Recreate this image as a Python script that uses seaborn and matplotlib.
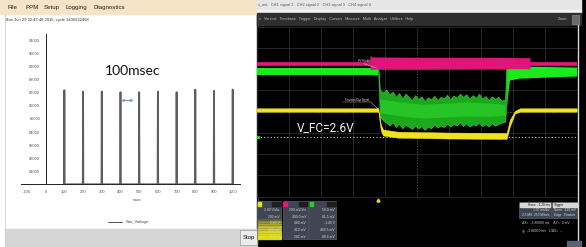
import numpy as np
import pandas as pd
import matplotlib
matplotlib.use("Agg")
import matplotlib.pyplot as plt
from matplotlib.patches import Rectangle, FancyArrowPatch
from matplotlib.ticker import MultipleLocator, FixedLocator
import seaborn as sns

# ---------------- data: left chart (PPM "Sun_Voltage") ----------------
spike_times = [100, 200, 300, 400, 500, 600, 700, 800, 900, 1000]          # msec
spike_peaks = [87200, 87100, 87100, 87050, 87050, 87100, 87050, 87250, 87150, 87250]
spike_base = 80000
y_tick_values = [81000, 82000, 83000, 84000, 85000, 86000, 87000, 88000, 89000, 90000, 91000]
x_tick_values = [-100, 0, 100, 200, 300, 400, 500, 600, 700, 800, 900, 1000]
left_menu = ["File", "PPM", "Setup", "Logging", "Diagnostics"]
timestamp = "Mon Jun 29 22:47:48 2015, cycle 1435632468"

# ---------------- data: oscilloscope traces (time / level in divisions) ----------------
mag_t = [0.0, 3.54, 8.54, 10.0]
mag_v = [6.245, 6.245, 6.245, 6.245]
mag_band_t = [3.54, 3.60, 5.0, 7.0, 8.54]
mag_band_hi = [6.67, 6.58, 6.56, 6.56, 6.54]
mag_band_lo = [6.00, 6.00, 6.00, 6.02, 6.02]

green_hi_t = [0.0, 3.80]
green_hi_top = [6.08, 6.08]
green_hi_bot = [5.73, 5.73]
green_hi_t2 = [7.81, 7.90, 8.20, 10.0]
green_hi_top2 = [6.34, 6.24, 6.15, 6.10]
green_hi_bot2 = [4.40, 5.49, 5.58, 5.68]

green_t = [3.80, 3.85, 3.95, 4.05, 4.15, 4.25, 4.35, 4.45, 4.55, 4.65, 4.75, 4.85, 4.95, 5.05,
           5.15, 5.25, 5.35, 5.45, 5.55, 5.65, 5.75, 5.85, 5.95, 6.05, 6.15, 6.25, 6.35, 6.45,
           6.55, 6.65, 6.75, 6.85, 6.95, 7.05, 7.15, 7.25, 7.35, 7.45, 7.55, 7.65, 7.76, 7.81]
green_hi = [6.08, 5.02, 4.90, 5.05, 4.80, 4.95, 4.70, 4.88, 4.62, 4.85, 4.70, 4.55, 4.78, 4.60,
            4.72, 4.50, 4.68, 4.58, 4.75, 4.55, 4.70, 4.62, 4.80, 4.58, 4.76, 4.66, 4.85, 4.70,
            4.82, 4.60, 4.78, 4.65, 4.84, 4.62, 4.74, 4.55, 4.72, 4.60, 4.70, 4.52, 4.58, 6.34]
green_lo = [5.73, 3.76, 3.60, 3.48, 3.35, 3.50, 3.28, 3.42, 3.22, 3.38, 3.30, 3.18, 3.36, 3.20,
            3.32, 3.14, 3.30, 3.22, 3.40, 3.25, 3.35, 3.28, 3.44, 3.30, 3.42, 3.35, 3.50, 3.32,
            3.45, 3.30, 3.40, 3.36, 3.48, 3.32, 3.42, 3.30, 3.45, 3.34, 3.42, 3.48, 3.53, 4.40]
green_core_t = [3.85, 4.5, 5.2, 5.9, 6.6, 7.3, 7.76]
green_core_hi = [4.60, 4.45, 4.35, 4.40, 4.45, 4.40, 4.35]
green_core_lo = [3.95, 3.80, 3.70, 3.75, 3.80, 3.78, 3.85]

yel_t = [0.0, 3.80, 3.88, 3.95, 4.40, 5.90, 7.78, 7.81, 7.91, 8.07, 8.23, 10.0]
yel_hi = [4.16, 4.16, 3.40, 3.16, 3.06, 3.02, 3.00, 3.00, 3.62, 4.04, 4.16, 4.16]
yel_lo = [4.00, 4.00, 3.10, 2.88, 2.78, 2.74, 2.72, 2.72, 3.30, 3.92, 4.00, 4.00]

ground_level = 2.82
vfc_label = "V_FC=2.6V"
scope_menu = "le   Vertical   Timebase   Trigger   Display   Cursors   Measure   Math   Analyze   Utilities   Help"
scope_title = "s_ant   CH1 signal 1   CH2 signal 2   CH3 signal 3   CH4 signal 4"
ch1_info = ["2.00 V/div", "200 mV", "2.60 V", "120 mV", "2.62 V"]
ch2_info = ["200 mV/div", "490.0 mV", "480 mV", "410 mV", "282 mV"]
ch3_info = ["50.0 mV", "81.5 mV", "-1.49 V", "450.5 mV", "80.5 mV"]
horiz_info = ["Horiz  -1.20 ms", "1.00 ms/div", "2.5 MS  250 MSa/s"]
trig_info = ["Trigger", "Norm   410 mV", "Edge   Positive"]
cursor_info = ["\u0394X=  -3.80000 ms    \u0394Y=  0 mV", "\u25CE  -3.80000 ms   1/\u0394X=  --"]

# ---------------- figure ----------------
sns.set_theme(style="white")
plt.rcParams["font.family"] = ["Liberation Sans", "DejaVu Sans"]
W, H = 586, 247
fig = plt.figure(figsize=(W / 100, H / 100), dpi=100)


def px_axes(x0, y0, x1, y1, **kw):
    return fig.add_axes([x0 / W, 1 - y1 / H, (x1 - x0) / W, (y1 - y0) / H], **kw)


bg = fig.add_axes([0, 0, 1, 1])
bg.set_xlim(0, W)
bg.set_ylim(H, 0)
bg.axis("off")

# ---- left window chrome ----
bg.add_patch(Rectangle((0, 0), 257, H, color="white", zorder=0))
bg.add_patch(Rectangle((0, 0), 257, 14, color="#f5e4c6", zorder=1))
menu_x = [8, 25.5, 44, 66, 94]
for x, w in zip(menu_x, left_menu):
    bg.text(x, 7.5, w, fontsize=4.4, color="#222222", va="center", ha="left", zorder=2)
bg.text(5, 20.5, timestamp, fontsize=3.0, color="#333333", va="center", ha="left", zorder=2)
bg.plot([5, 5], [14, 246], color="#d0d0d0", lw=0.6, zorder=2)
bg.add_patch(Rectangle((5, 229), 252, 17, color="#d6d6d6", zorder=1))
bg.add_patch(Rectangle((240, 229.5), 16.5, 15.5, facecolor="#ececec", edgecolor="#9a9a9a",
                       lw=0.5, zorder=2))
bg.text(248.5, 237.5, "Stop", fontsize=4.2, color="#111111", ha="center", va="center", zorder=3)

bg.text(132.5, 70.5, "100msec", fontsize=10, family=["Lato", "DejaVu Sans"], color="#111111",
        ha="center", va="center", zorder=3)
bg.add_patch(FancyArrowPatch((118.5, 100.5), (136.5, 100.5), arrowstyle="<->",
                             mutation_scale=4, color="#6f9ad6", lw=0.7, zorder=3))
bg.text(137, 199.5, "msec", fontsize=2.8, color="#555555", ha="center", va="center", zorder=3)

# ---- scope window chrome ----
bg.add_patch(Rectangle((256.5, 0), W - 256.5, H, color="#000000", zorder=0))
bg.add_patch(Rectangle((256.5, 0), 324, 10.5, color="#e6e6e6", zorder=1))
bg.add_patch(Rectangle((256.5, 10.5), 324, 2.5, color="#f4f4f4", zorder=1))
bg.add_patch(Rectangle((256.5, 13), 324, 12.5, color="#2e2e2e", zorder=1))
bg.text(258, 5, scope_title, fontsize=2.8, color="#555555", ha="left", va="center", zorder=2)
bg.text(258, 19.2, scope_menu, fontsize=2.7, color="#bdbdbd", ha="left", va="center", zorder=2)
bg.text(563, 19.2, "Zoom", fontsize=2.7, color="#bdbdbd", ha="center", va="center", zorder=2)
bg.add_patch(Rectangle((571.5, 15), 7, 9, facecolor="#6a6a6a", edgecolor="#9a9a9a", lw=0.4, zorder=2))
bg.plot([578, 578], [25, 243], color="#d8d8d8", lw=1.0, zorder=2)
bg.plot([257.5, 257.5], [13, 200], color="#3a3a3a", lw=1.0, zorder=2)

# trigger marker
bg.plot([378.3], [199.5], marker="^", ms=2.2, color="#e8d81a", zorder=3)


def info_box(x0, x1, tag_col, lines, yellow=False):
    bg.add_patch(Rectangle((x0, 201), x1 - x0, 38, facecolor="#3f4552", edgecolor="#6a7080",
                           lw=0.4, zorder=2))
    bg.add_patch(Rectangle((x0 + 0.5, 201.5), 3.5, 4.5, color=tag_col, zorder=3))
    bg.add_patch(Rectangle((x1 - 9, 202), 8.5, 4, color="#1d1d1d", zorder=3))
    if yellow:
        for k in range(12):
            bg.add_patch(Rectangle((x0 + 0.5, 219 + k * 1.65), x1 - x0 - 1, 1.7,
                                   color="#e8e020", alpha=0.12 + 0.07 * k, zorder=3))
    for k, s in enumerate(lines):
        bg.text(x1 - 1.5, 210 + k * 6.7, s, fontsize=2.4, color="#d8d8d8", ha="right",
                va="center", zorder=4)


info_box(257, 281, "#e8e020", ch1_info, yellow=True)
info_box(282.5, 307.5, "#e8157a", ch2_info)
info_box(309, 336, "#22d022", ch3_info)

bg.add_patch(Rectangle((519, 202), 31.5, 16, facecolor="#3f4552", edgecolor="#6a7080", lw=0.4, zorder=2))
bg.add_patch(Rectangle((552, 202), 25, 16, facecolor="#3f4552", edgecolor="#6a7080", lw=0.4, zorder=2))
bg.add_patch(Rectangle((519.5, 202.5), 30.5, 4, color="#d8d8d8", zorder=3))
bg.add_patch(Rectangle((552.5, 202.5), 24, 4, color="#d8d8d8", zorder=3))
for k, s in enumerate(horiz_info):
    bg.text(549.5, 204.5 + k * 5, s, fontsize=2.3, color="#111111" if k == 0 else "#d8d8d8",
            ha="right", va="center", zorder=4)
for k, s in enumerate(trig_info):
    bg.text(553.5, 204.5 + k * 5, s, fontsize=2.3, color="#111111" if k == 0 else "#d8d8d8",
            ha="left", va="center", zorder=4)
for k, s in enumerate(cursor_info):
    bg.text(522, 222.5 + k * 7.5, s, fontsize=2.4, color="#cfcfcf", ha="left", va="center", zorder=4)
bg.add_patch(Rectangle((567, 241), 14, 6, color="#5a6070", zorder=2))

# ---------------- left chart (seaborn) ----------------
rows = []
for t, p in zip(spike_times, spike_peaks):
    rows += [(t - 1.5, spike_base), (t, p), (t + 1.5, spike_base)]
spk = pd.DataFrame(rows, columns=["msec", "Sun_Voltage"])

axl = px_axes(20.6, 34.0, 240.0, 184.3)
axl.patch.set_alpha(0)
sns.lineplot(data=spk, x="msec", y="Sun_Voltage", sort=False, estimator=None, ax=axl,
             color="#5e5e5e", lw=1.3, label="Sun_Voltage")
axl.set_xlim(-134, 1039)
axl.set_ylim(80000, 91500)
axl.set_xlabel("")
axl.set_ylabel("")
for s in ["top", "right"]:
    axl.spines[s].set_visible(False)
axl.spines["left"].set_position(("data", 0))
for s in ["left", "bottom"]:
    axl.spines[s].set_color("#222222")
    axl.spines[s].set_linewidth(0.7)
axl.xaxis.set_major_locator(FixedLocator(x_tick_values))
axl.yaxis.set_major_locator(FixedLocator(y_tick_values))
axl.xaxis.set_minor_locator(MultipleLocator(50))
axl.yaxis.set_minor_locator(MultipleLocator(500))
axl.set_xticklabels([str(v) for v in x_tick_values])
axl.set_yticklabels([str(v) for v in y_tick_values])
axl.tick_params(which="major", direction="inout", length=3, width=0.5, color="#222222",
                labelsize=2.9, labelcolor="#555555", pad=2.5)
axl.tick_params(which="minor", direction="inout", length=1.6, width=0.4, color="#222222")
axl.legend(loc="center left", bbox_to_anchor=(104 / W, 1 - 222 / H), bbox_transform=fig.transFigure,
           frameon=False, fontsize=3.0, handlelength=3.5, handletextpad=0.8,
           labelcolor="#444444")
axl.get_legend().get_lines()[0].set_color("#333333")
axl.get_legend().get_lines()[0].set_linewidth(0.6)

# ---------------- oscilloscope (seaborn) ----------------
axs = px_axes(256.7, 26.7, 576.7, 196.7)
axs.set_facecolor("black")
axs.set_xlim(0, 10)
axs.set_ylim(0, 8)
for v in range(1, 10):
    axs.axvline(v, color="#6a6a6a" if v == 5 else "#363636", lw=0.5,
                ls=(0, (2, 2)) if v == 5 else "-", zorder=1)
for v in range(1, 8):
    axs.axhline(v, color="#6a6a6a" if v == 4 else "#363636", lw=0.5,
                ls=(0, (2, 2)) if v == 4 else "-", zorder=1)
axs.set_xticks([])
axs.set_yticks([])
for s in axs.spines.values():
    s.set_color("#2a2a2a")
    s.set_linewidth(0.6)

# ground reference (dotted) and marker
axs.axhline(ground_level, color="#cfcfcf", lw=0.7, ls=(0, (1.2, 2.2)), zorder=2)
axs.plot([0.04], [ground_level], marker="s", ms=1.4, color="#22d022", zorder=6)

# magenta trace
mag = pd.DataFrame({"t": mag_t, "v": mag_v})
sns.lineplot(data=mag, x="t", y="v", ax=axs, color="#e8177d", lw=2.6, estimator=None,
             sort=False, zorder=4)
axs.fill_between(mag_band_t, mag_band_lo, mag_band_hi, color="#e0157a", lw=0, zorder=4)

# green trace
axs.fill_between(green_hi_t, green_hi_bot, green_hi_top, color="#19ec19", lw=0, zorder=3)
axs.fill_between(green_hi_t2, green_hi_bot2, green_hi_top2, color="#19ec19", lw=0, zorder=3)
axs.fill_between(green_t, green_lo, green_hi, color="#1ca81c", lw=0.4, ec="#35d535", zorder=3)
axs.fill_between(green_core_t, green_core_lo, green_core_hi, color="#2cd02c", lw=0, alpha=0.7,
                 zorder=3)

# yellow trace
axs.fill_between(yel_t, yel_lo, yel_hi, color="#f0e21c", lw=0.3, ec="#f8ee40", zorder=5)

axs.set_xlabel("")
axs.set_ylabel("")

# annotations inside scope
axs.text(3.35, 6.27, "PV Module", fontsize=1.9, color="#e8e8e8", ha="center", va="bottom", zorder=7)
axs.plot([3.35, 3.75], [6.26, 6.05], color="#dddddd", lw=0.3, zorder=7)
axs.text(3.12, 4.48, "Fenestra Cap Signal", fontsize=1.9, color="#e8e8e8", ha="center",
         va="bottom", zorder=7)
axs.plot([2.7, 3.55], [4.47, 4.47], color="#dddddd", lw=0.3, zorder=7)
axs.plot([3.55, 3.80], [4.47, 4.12], color="#dddddd", lw=0.3, zorder=7)
axs.text(2.15, 3.27, vfc_label, fontsize=8.6, family=["Roboto", "DejaVu Sans"],
         color="#f2f2f2", ha="center", va="center", zorder=7)

fig.savefig("out.png", dpi=100, facecolor="white")
